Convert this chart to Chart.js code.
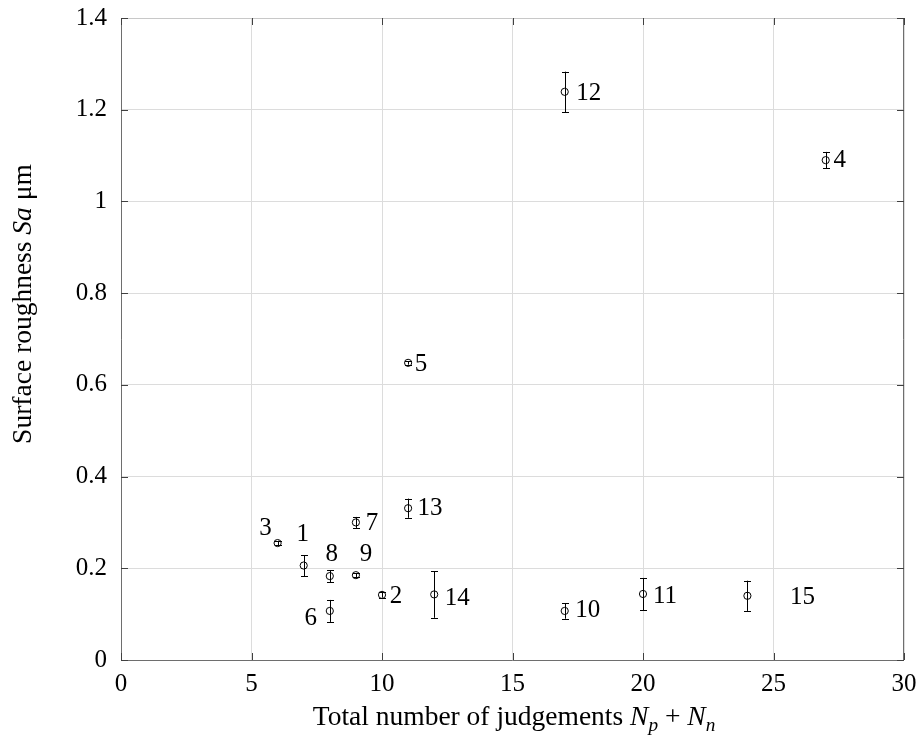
<!DOCTYPE html>
<html>
<head>
<meta charset="utf-8">
<script src="https://cdn.jsdelivr.net/npm/chart.js@4.4.1/dist/chart.umd.min.js"></script>
<style>
  html, body { margin: 0; padding: 0; background: #fff; }
  #wrap { width: 923px; height: 737px; }
</style>
</head>
<body>
<div id="wrap"><canvas id="c" width="923" height="737"></canvas></div>
<script>
// ---- data ----
const sampleIds  = ['1','2','3','4','5','6','7','8','9','10','11','12','13','14','15'];
const judgements = [7, 10, 6, 27, 11, 8, 9, 8, 9, 17, 20, 17, 11, 12, 24];
const roughness  = [0.206, 0.142, 0.255, 1.090, 0.648, 0.107, 0.300, 0.183, 0.185, 0.107, 0.144, 1.239, 0.331, 0.143, 0.140];
const roughErr   = [0.023, 0.006, 0.005, 0.018, 0.004, 0.024, 0.012, 0.013, 0.004, 0.017, 0.035, 0.044, 0.021, 0.051, 0.033];
const xTicks      = [0, 5, 10, 15, 20, 25, 30];
const xTickLabels = ['0','5','10','15','20','25','30'];
const yTicks      = [0, 0.2, 0.4, 0.6, 0.8, 1.0, 1.2, 1.4];
const yTickLabels = ['0','0.2','0.4','0.6','0.8','1','1.2','1.4'];

// ---- styling (label placement offsets in px, not data) ----
const labelDx = [-1, 14, -12, 14, 13, -19, 16, 2, 10, 23, 22, 24, 22, 23, 55];
const labelDy = [-31, 2, -15, 0, 2, 8, 1, -22, -21, 0, 2, 2, 0, 4, 2];
const SERIF = '"Liberation Serif", "Times New Roman", serif';
const TICK_PX = 25, TITLE_PX = 27.5, LABEL_PX = 25;

const points = judgements.map((x, i) => ({ x: x, y: roughness[i] }));

const errorBars = {
  id: 'errorBars',
  beforeDatasetsDraw(chart) {
    const ctx = chart.ctx, xs = chart.scales.x, ys = chart.scales.y;
    ctx.save();
    ctx.strokeStyle = '#000';
    ctx.lineWidth = 1;
    judgements.forEach((xv, i) => {
      const px = Math.round(xs.getPixelForValue(xv)) + 0.5;
      const y1 = ys.getPixelForValue(roughness[i] + roughErr[i]);
      const y2 = ys.getPixelForValue(roughness[i] - roughErr[i]);
      ctx.beginPath();
      ctx.moveTo(px, y1); ctx.lineTo(px, y2);
      ctx.moveTo(px - 3.5, Math.round(y1) + 0.5); ctx.lineTo(px + 3.5, Math.round(y1) + 0.5);
      ctx.moveTo(px - 3.5, Math.round(y2) + 0.5); ctx.lineTo(px + 3.5, Math.round(y2) + 0.5);
      ctx.stroke();
    });
    ctx.restore();
  }
};

function drawSegments(ctx, segs, totalOnly) {
  let w = 0;
  segs.forEach(s => { ctx.font = s.font; w += ctx.measureText(s.t).width; });
  if (totalOnly) return w;
  let x = 0;
  segs.forEach(s => {
    ctx.font = s.font;
    ctx.fillText(s.t, x, s.dy || 0);
    x += ctx.measureText(s.t).width;
  });
  return w;
}

const frameAndText = {
  id: 'frameAndText',
  afterDraw(chart) {
    const ctx = chart.ctx, a = chart.chartArea, xs = chart.scales.x, ys = chart.scales.y;
    ctx.save();
    // frame
    ctx.lineWidth = 1;
    ctx.strokeStyle = '#c8c8c8';
    ctx.beginPath(); ctx.moveTo(a.left, a.top + 0.5); ctx.lineTo(a.right, a.top + 0.5); ctx.stroke();
    ctx.strokeStyle = '#6e6e6e';
    ctx.beginPath();
    ctx.moveTo(a.left + 0.5, a.top); ctx.lineTo(a.left + 0.5, a.bottom + 0.5);
    ctx.lineTo(a.right - 0.5, a.bottom + 0.5); ctx.lineTo(a.right - 0.5, a.top);
    ctx.stroke();
    // inward tick marks
    ctx.strokeStyle = '#404040';
    ctx.beginPath();
    xTicks.forEach(v => {
      const p = Math.round(xs.getPixelForValue(v)) + 0.5;
      ctx.moveTo(p, a.bottom); ctx.lineTo(p, a.bottom - 7);
      ctx.moveTo(p, a.top); ctx.lineTo(p, a.top + 7);
    });
    yTicks.forEach(v => {
      const p = Math.round(ys.getPixelForValue(v)) + 0.5;
      ctx.moveTo(a.left, p); ctx.lineTo(a.left + 7, p);
      ctx.moveTo(a.right, p); ctx.lineTo(a.right - 7, p);
    });
    ctx.stroke();

    // point labels
    ctx.fillStyle = '#000';
    ctx.font = LABEL_PX + 'px ' + SERIF;
    ctx.textAlign = 'center';
    ctx.textBaseline = 'middle';
    sampleIds.forEach((id, i) => {
      const px = xs.getPixelForValue(judgements[i]) + labelDx[i];
      const py = ys.getPixelForValue(roughness[i]) + labelDy[i];
      ctx.fillText(id, px, py);
    });

    // axis titles
    ctx.textAlign = 'left';
    ctx.textBaseline = 'alphabetic';
    const normal = TITLE_PX + 'px ' + SERIF;
    const ital = 'italic ' + TITLE_PX + 'px ' + SERIF;
    const sub = 'italic ' + (TITLE_PX * 0.7) + 'px ' + SERIF;
    const xSegs = [
      { t: 'Total number of judgements ', font: normal },
      { t: 'N', font: ital }, { t: 'p', font: sub, dy: 6 },
      { t: ' + ', font: normal },
      { t: 'N', font: ital }, { t: 'n', font: sub, dy: 6 }
    ];
    const xw = drawSegments(ctx, xSegs, true);
    ctx.save();
    ctx.translate(514 - xw / 2, 725);
    drawSegments(ctx, xSegs);
    ctx.restore();

    const ySegs = [
      { t: 'Surface roughness ', font: normal },
      { t: 'Sa', font: ital },
      { t: ' \u03bcm', font: normal }
    ];
    const yw = drawSegments(ctx, ySegs, true);
    ctx.save();
    ctx.translate(31, 304 + yw / 2);
    ctx.rotate(-Math.PI / 2);
    drawSegments(ctx, ySegs);
    ctx.restore();

    ctx.restore();
  }
};

new Chart(document.getElementById('c'), {
  type: 'scatter',
  data: {
    datasets: [{
      data: points,
      pointStyle: 'circle',
      pointRadius: 3.6,
      pointHoverRadius: 3.6,
      pointBorderWidth: 1,
      borderColor: '#000',
      backgroundColor: 'rgba(0,0,0,0)',
      showLine: false
    }]
  },
  options: {
    responsive: false,
    devicePixelRatio: 1,
    animation: false,
    events: [],
    layout: { padding: { left: 0, top: 18, right: 19, bottom: 0 } },
    plugins: { legend: { display: false }, tooltip: { enabled: false } },
    scales: {
      x: {
        type: 'linear', min: 0, max: 30,
        afterBuildTicks: s => { s.ticks = xTicks.map(v => ({ value: v })); },
        afterFit: s => { s.height = 77; s.paddingLeft = 0; s.paddingRight = 0; },
        ticks: {
          callback: (v) => xTickLabels[xTicks.indexOf(v)],
          color: '#000', font: { family: SERIF, size: TICK_PX }, padding: 9, maxRotation: 0
        },
        grid: { color: '#dcdcdc', drawTicks: false, lineWidth: 1 },
        border: { display: false }
      },
      y: {
        type: 'linear', min: 0, max: 1.4,
        afterBuildTicks: s => { s.ticks = yTicks.map(v => ({ value: v })); },
        afterFit: s => { s.width = 121; s.paddingTop = 0; s.paddingBottom = 0; },
        ticks: {
          callback: (v) => { const k = yTicks.findIndex(t => Math.abs(t - v) < 1e-9); return yTickLabels[k]; },
          color: '#000', font: { family: SERIF, size: TICK_PX }, padding: 14
        },
        grid: { color: '#dcdcdc', drawTicks: false, lineWidth: 1 },
        border: { display: false }
      }
    }
  },
  plugins: [errorBars, frameAndText]
});
</script>
</body>
</html>
